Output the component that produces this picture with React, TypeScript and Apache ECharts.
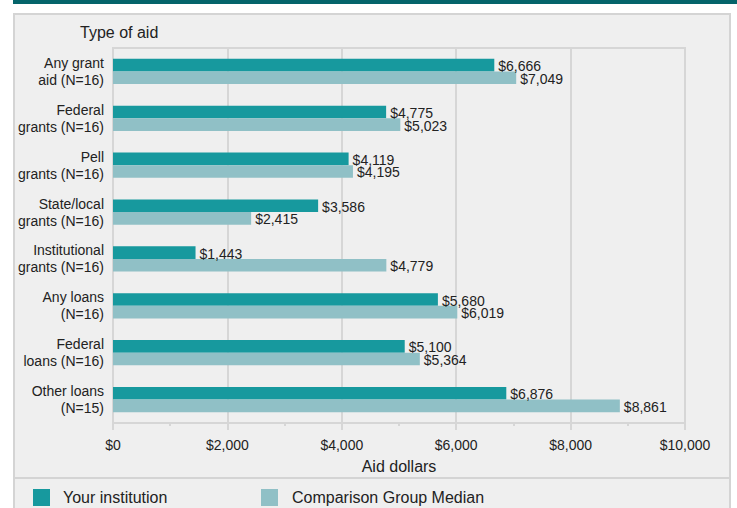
import React, { useEffect, useRef } from "react";
import * as echarts from "echarts";

const categories = [
  "Any grant\naid (N=16)",
  "Federal\ngrants (N=16)",
  "Pell\ngrants (N=16)",
  "State/local\ngrants (N=16)",
  "Institutional\ngrants (N=16)",
  "Any loans\n(N=16)",
  "Federal\nloans (N=16)",
  "Other loans\n(N=15)",
];
const yourInstitution = [6666, 4775, 4119, 3586, 1443, 5680, 5100, 6876];
const comparisonMedian = [7049, 5023, 4195, 2415, 4779, 6019, 5364, 8861];
const seriesNames = ["Your institution", "Comparison Group Median"];

const FONT = "'Liberation Sans', Arial, sans-serif";
const fmt = (v: number) => "$" + Math.round(v).toLocaleString("en-US");

export default function App() {
  const ref = useRef<HTMLDivElement>(null);
  useEffect(() => {
    if (!ref.current) return;
    const chart = echarts.init(ref.current, null, { renderer: "svg" });
    const barLabel = {
      show: true,
      position: "right",
      distance: 4,
      formatter: (p: any) => fmt(p.value),
      fontFamily: FONT,
      fontSize: 14,
      lineHeight: 12,
      color: "#222",
      offset: [0, 1],
    };
    chart.setOption({
      animation: false,
      textStyle: { fontFamily: FONT },
      grid: {
        left: 113,
        top: 48,
        width: 572,
        height: 375,
        show: true,
        borderColor: "#d6d6d6",
        borderWidth: 2,
        backgroundColor: "transparent",
      },
      xAxis: {
        type: "value",
        min: 0,
        max: 10000,
        interval: 2000,
        name: "Aid dollars",
        nameLocation: "middle",
        nameGap: 35,
        nameTextStyle: { fontFamily: FONT, fontSize: 16, color: "#222" },
        axisLine: { show: false },
        axisTick: { show: true, length: 7, lineStyle: { color: "#d6d6d6", width: 2 } },
        minorTick: { show: true, splitNumber: 2, length: 3, lineStyle: { color: "#d6d6d6", width: 2 } },
        splitLine: { show: true, lineStyle: { color: "#d6d6d6", width: 2 } },
        axisLabel: {
          formatter: (v: number) => fmt(v),
          fontFamily: FONT,
          fontSize: 14,
          color: "#222",
          margin: 15,
        },
      },
      yAxis: {
        type: "category",
        inverse: true,
        data: categories,
        axisLine: { show: true, lineStyle: { color: "#d6d6d6", width: 2 } },
        axisTick: { show: false },
        axisLabel: {
          fontFamily: FONT,
          fontSize: 14,
          lineHeight: 17,
          color: "#222",
          margin: 9,
          align: "right",
        },
      },
      legend: [
        {
          left: 33,
          top: 489,
          padding: 0,
          itemWidth: 17,
          itemHeight: 17,
          icon: "rect",
          data: [seriesNames[0]],
          textStyle: { fontFamily: FONT, fontSize: 16, color: "#222", padding: [0, 0, 0, 8] },
          selectedMode: false,
        },
        {
          left: 261,
          top: 489,
          padding: 0,
          itemWidth: 17,
          itemHeight: 17,
          icon: "rect",
          data: [seriesNames[1]],
          textStyle: { fontFamily: FONT, fontSize: 16, color: "#222", padding: [0, 0, 0, 9] },
          selectedMode: false,
        },
      ],
      graphic: [
        {
          type: "text",
          left: 80,
          top: 24,
          style: { text: "Type of aid", fontFamily: FONT, fontSize: 16, fill: "#222" },
        },
      ],
      series: [
        {
          name: seriesNames[0],
          type: "bar",
          data: yourInstitution,
          barWidth: 12.6,
          barGap: "0%",
          itemStyle: { color: "#17999e" },
          label: barLabel,
        },
        {
          name: seriesNames[1],
          type: "bar",
          data: comparisonMedian,
          barWidth: 12.6,
          barGap: "0%",
          itemStyle: { color: "#90c0c6" },
          label: barLabel,
        },
      ],
    });
    return () => chart.dispose();
  }, []);

  return (
    <div style={{ position: "fixed", left: 0, top: 0, width: 737, height: 508, background: "#fff", overflow: "hidden" }}>
      <div style={{ position: "absolute", left: 13, top: 0, width: 724, height: 4, background: "#05646a" }} />
      <div
        style={{
          position: "absolute",
          left: 13,
          top: 13,
          width: 718,
          height: 500,
          background: "#efefef",
          border: "2px solid #d4d4d4",
          boxSizing: "border-box",
        }}
      />
      <div style={{ position: "absolute", left: 14, top: 477, width: 717, height: 2, background: "#d4d4d4" }} />
      <div ref={ref} style={{ position: "absolute", left: 0, top: 0, width: 737, height: 508 }} />
    </div>
  );
}
